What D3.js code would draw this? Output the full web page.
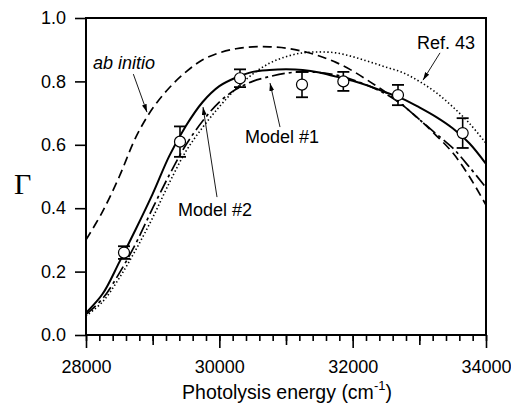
<!DOCTYPE html>
<html>
<head>
<meta charset="utf-8">
<script src="https://cdn.jsdelivr.net/npm/d3@7"></script>
<style>
	body { margin: 0; background: #fff; }
	svg { display: block; font-family: "Liberation Sans", Arial, sans-serif; }
	.axis path.domain { display: none; }
	.axis line { stroke: #000; stroke-width: 1.6; }
	.axis text { font-size: 18px; fill: #000; font-family: "Liberation Sans", Arial, sans-serif; }
</style>
</head>
<body>
<div class="chart"></div>
<script>
// curve grid (photolysis energy, cm-1)
const energy = [28000, 28250, 28500, 28750, 29000, 29250, 29500, 29750, 30000, 30250, 30500, 30750, 31000,
	31250, 31500, 31750, 32000, 32250, 32500, 32750, 33000, 33250, 33500, 33750, 34000];

// Model #2 (solid)
const modelTwo = [0.07, 0.13, 0.23, 0.335, 0.445, 0.565, 0.66, 0.735, 0.785, 0.812, 0.83, 0.836, 0.838,
	0.836, 0.828, 0.815, 0.802, 0.785, 0.765, 0.745, 0.718, 0.688, 0.652, 0.605, 0.54];
// Model #1 (dash-dot)
const modelOne = [0.065, 0.115, 0.195, 0.29, 0.40, 0.505, 0.60, 0.675, 0.735, 0.775, 0.80, 0.815, 0.826,
	0.83, 0.828, 0.82, 0.805, 0.785, 0.76, 0.725, 0.68, 0.635, 0.59, 0.53, 0.465];
// ab initio (dashed)
const abInitio = [0.30, 0.39, 0.50, 0.625, 0.715, 0.78, 0.83, 0.868, 0.89, 0.903, 0.909, 0.909, 0.905,
	0.895, 0.88, 0.86, 0.833, 0.80, 0.765, 0.725, 0.68, 0.63, 0.575, 0.50, 0.41];
// Ref. 43 (dotted)
const ref43 = [0.06, 0.105, 0.18, 0.27, 0.37, 0.48, 0.58, 0.655, 0.72, 0.777, 0.823, 0.857, 0.878,
	0.89, 0.893, 0.89, 0.878, 0.862, 0.845, 0.828, 0.80, 0.765, 0.72, 0.668, 0.605];

// measured points
const expEnergy = [28570, 29410, 30310, 31240, 31860, 32680, 33650];
const expGamma = [0.26, 0.61, 0.81, 0.79, 0.80, 0.757, 0.637];
const expErr = [0.02, 0.048, 0.028, 0.04, 0.03, 0.032, 0.047];

const xTicks = [28000, 30000, 32000, 34000];
const yTicks = [0.0, 0.2, 0.4, 0.6, 0.8, 1.0];

// annotations: label position and arrow (from -> to), in data units
const labels = [
	{ text: "ab initio", italic: true, x: 28105, y: 0.838, x1: 28710, y1: 0.823, x2: 28915, y2: 0.703 },
	{ text: "Model #2", x: 29380, y: 0.375, x1: 29965, y1: 0.435, x2: 29755, y2: 0.719 },
	{ text: "Model #1", x: 30385, y: 0.606, x1: 30910, y1: 0.656, x2: 30760, y2: 0.795 },
	{ text: "Ref. 43", x: 32965, y: 0.902, x1: 33310, y1: 0.89, x2: 33055, y2: 0.804 }
];

let width = 511, height = 406;
let margin = { top: 18, right: 25, bottom: 71, left: 86 };

let svg = d3.select(".chart")
	.append("svg")
	.attr("width", width)
	.attr("height", height);

let x = d3.scaleLinear().domain([28000, 34000]).range([margin.left, width - margin.right]);
let y = d3.scaleLinear().domain([0, 1]).range([height - margin.bottom, margin.top]);

let bottom = height - margin.bottom;

// x axis: minor, mid and major ticks
svg.append("g").attr("class", "axis")
	.attr("transform", "translate(0," + bottom + ")")
	.call(d3.axisBottom(x).tickValues(d3.range(28000, 34001, 200)).tickSize(6).tickFormat(""));
svg.append("g").attr("class", "axis")
	.attr("transform", "translate(0," + bottom + ")")
	.call(d3.axisBottom(x).tickValues(d3.range(29000, 34000, 2000)).tickSize(10).tickFormat(""));
svg.append("g").attr("class", "axis")
	.attr("transform", "translate(0," + bottom + ")")
	.call(d3.axisBottom(x).tickValues(xTicks).tickSize(13).tickPadding(12).tickFormat(d3.format("d")));

// y axis
svg.append("g").attr("class", "axis")
	.attr("transform", "translate(" + margin.left + ",0)")
	.call(d3.axisLeft(y).tickValues(yTicks).tickSize(11).tickPadding(9).tickFormat(d3.format(".1f")));

// frame
svg.append("rect")
	.attr("x", x(28000))
	.attr("y", y(1))
	.attr("width", x(34000) - x(28000))
	.attr("height", y(0) - y(1))
	.attr("fill", "none")
	.attr("stroke", "#000")
	.attr("stroke-width", 2);

svg.append("clipPath").attr("id", "clip")
	.append("rect")
	.attr("x", x(28000)).attr("y", y(1))
	.attr("width", x(34000) - x(28000)).attr("height", y(0) - y(1));

let line = function(vals) {
	return d3.line()
		.x(function(d, i) { return x(energy[i]); })
		.y(function(d) { return y(d); })
		.curve(d3.curveCatmullRom)(vals);
};

let curves = [
	{ vals: ref43, dash: "1.4,2.4", w: 1.6 },
	{ vals: abInitio, dash: "9,5", w: 1.7 },
	{ vals: modelOne, dash: "13,4,3,4", w: 1.7 },
	{ vals: modelTwo, dash: null, w: 2 }
];

svg.append("g").attr("clip-path", "url(#clip)")
	.selectAll("path")
	.data(curves)
	.enter().append("path")
	.attr("d", function(d) { return line(d.vals); })
	.attr("fill", "none")
	.attr("stroke", "#000")
	.attr("stroke-width", function(d) { return d.w; })
	.attr("stroke-dasharray", function(d) { return d.dash; });

// error bars + open circles
let pts = svg.append("g").selectAll("g")
	.data(expEnergy)
	.enter().append("g");

pts.append("line")
	.attr("x1", function(d) { return x(d); })
	.attr("x2", function(d) { return x(d); })
	.attr("y1", function(d, i) { return y(expGamma[i] + expErr[i]); })
	.attr("y2", function(d, i) { return y(expGamma[i] - expErr[i]); })
	.attr("stroke", "#000").attr("stroke-width", 1.6);

[1, -1].forEach(function(s) {
	pts.append("line")
		.attr("x1", function(d) { return x(d) - 6; })
		.attr("x2", function(d) { return x(d) + 6; })
		.attr("y1", function(d, i) { return y(expGamma[i] + s * expErr[i]); })
		.attr("y2", function(d, i) { return y(expGamma[i] + s * expErr[i]); })
		.attr("stroke", "#000").attr("stroke-width", 1.8);
});

pts.append("circle")
	.attr("cx", function(d) { return x(d); })
	.attr("cy", function(d, i) { return y(expGamma[i]); })
	.attr("r", 5.5)
	.attr("fill", "#fff")
	.attr("stroke", "#000")
	.attr("stroke-width", 1.2);

// arrows
svg.append("defs").append("marker")
	.attr("id", "arrow")
	.attr("viewBox", "0 0 10 6")
	.attr("refX", 10).attr("refY", 3)
	.attr("markerWidth", 8).attr("markerHeight", 5)
	.attr("markerUnits", "userSpaceOnUse")
	.attr("orient", "auto")
	.append("path")
	.attr("d", "M0,0L10,3L0,6Z")
	.attr("fill", "#000");

svg.append("g").selectAll("line")
	.data(labels)
	.enter().append("line")
	.attr("x1", function(d) { return x(d.x1); })
	.attr("y1", function(d) { return y(d.y1); })
	.attr("x2", function(d) { return x(d.x2); })
	.attr("y2", function(d) { return y(d.y2); })
	.attr("stroke", "#000")
	.attr("stroke-width", 0.9)
	.attr("marker-end", "url(#arrow)");

svg.append("g").selectAll("text")
	.data(labels)
	.enter().append("text")
	.attr("x", function(d) { return x(d.x); })
	.attr("y", function(d) { return y(d.y); })
	.attr("font-size", 18)
	.attr("font-style", function(d) { return d.italic ? "italic" : "normal"; })
	.text(function(d) { return d.text; });

// axis titles
let xt = svg.append("text")
	.attr("x", (x(28000) + x(34000)) / 2 + 1)
	.attr("y", 399)
	.attr("text-anchor", "middle")
	.attr("font-size", 19.5);
xt.append("tspan").text("Photolysis energy (cm");
xt.append("tspan").attr("font-size", 13).attr("dy", -9).text("-1");
xt.append("tspan").attr("dy", 9).text(")");

svg.append("text")
	.attr("x", 14)
	.attr("y", 194)
	.attr("font-family", "'Liberation Serif', 'DejaVu Serif', serif")
	.attr("font-size", 30)
	.text("Γ");
</script>
</body>
</html>
